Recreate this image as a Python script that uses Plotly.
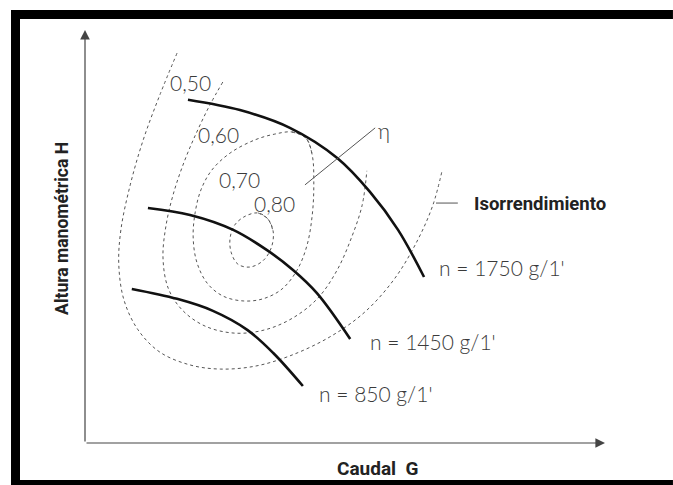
import plotly.graph_objects as go

# Head-capacity curves of the pump at three speeds (Caudal Q, Altura H, arbitrary units)
q_1750 = [19.8, 29.8, 39.4, 48.5, 54.8, 60.2, 65.2]
h_1750 = [83.1, 80.6, 76.3, 69.0, 60.8, 51.6, 40.2]

q_1450 = [12.1, 20.2, 28.5, 35.0, 40.0, 44.6, 51.0]
h_1450 = [56.9, 55.2, 51.6, 46.7, 41.9, 36.3, 25.2]

q_850 = [9.0, 17.7, 24.6, 31.2, 36.2, 41.9]
h_850 = [37.3, 34.9, 32.0, 27.4, 21.8, 13.8]

# Iso-efficiency contours (isorrendimiento)
q_050 = [17.7, 14.4, 11.2, 8.7, 6.9, 6.5, 7.5, 10.2, 14.4, 20.2, 26.0, 32.7, 39.4, 47.1, 53.8, 59.6, 64.0, 66.9, 68.7]
h_050 = [94.4, 84.3, 73.4, 62.5, 51.6, 43.1, 34.6, 27.4, 22.0, 18.9, 17.9, 18.6, 21.1, 25.7, 31.7, 39.9, 49.2, 57.6, 66.1]

q_060 = [26.5, 24.0, 21.5, 19.2, 17.1, 15.6, 15.0, 16.0, 18.7, 23.1, 28.8, 34.6, 40.0, 44.8, 48.5, 51.3, 53.3, 54.2]
h_060 = [87.4, 81.8, 75.3, 68.5, 60.8, 52.8, 44.8, 37.5, 32.2, 28.3, 26.6, 27.4, 30.3, 35.1, 41.9, 49.9, 57.6, 65.9]

# closed contours: the first points are repeated at the end so the loop joins smoothly
q_070 = [39.8, 42.5, 43.7, 44.0, 43.7, 42.7, 40.8, 37.9, 34.2, 30.4, 26.5, 23.5, 21.5, 20.8, 21.2, 22.3, 24.4, 27.9, 32.7, 36.5, 39.8, 42.5, 43.7]
h_070 = [75.3, 73.8, 69.7, 62.5, 55.2, 47.9, 41.9, 37.3, 34.9, 34.4, 35.6, 38.7, 43.8, 49.9, 55.9, 61.3, 66.1, 70.2, 73.4, 74.8, 75.3, 73.8, 69.7]

q_080 = [33.3, 35.2, 36.2, 35.8, 34.2, 31.7, 29.4, 28.1, 27.9, 28.8, 30.8, 33.3, 35.2, 36.2]
h_080 = [55.7, 54.2, 51.1, 47.2, 44.1, 42.6, 43.3, 46.2, 49.6, 52.8, 54.9, 55.7, 54.2, 51.1]

eff_labels = ["0,50", "0,60", "0,70", "0,80"]
eff_label_q = [20.2, 25.6, 29.8, 36.5]
eff_label_h = [87.2, 74.6, 63.7, 58.1]

speed_labels = ["n = 1750 g/1'", "n = 1450 g/1'", "n = 850 g/1'"]
speed_label_q = [67.7, 54.4, 44.6]
speed_label_h = [42.6, 24.5, 11.9]

# Leader lines for the η and Isorrendimiento callouts
eta_q = [42.3, 55.8]
eta_h = [62.5, 76.3]
iso_q = [67.5, 71.7]
iso_h = [58.1, 58.1]

LIGHT = dict(family="Lato, 'Open Sans', sans-serif", size=21, color="#3a3a3a", weight=300)
BOLD = dict(family="Roboto, Lato, sans-serif", size=18.5, color="#222", weight="bold")

fig = go.Figure()

dash_style = dict(color="#555", width=1, dash="3px,3px")
for qs, hs in [(q_050, h_050), (q_060, h_060), (q_070, h_070), (q_080, h_080)]:
    fig.add_trace(go.Scatter(x=qs, y=hs, mode="lines",
                             line=dict(shape="spline", smoothing=1.0, **dash_style),
                             hoverinfo="skip"))

for qs, hs in [(q_1750, h_1750), (q_1450, h_1450), (q_850, h_850)]:
    fig.add_trace(go.Scatter(x=qs, y=hs, mode="lines",
                             line=dict(shape="spline", color="#111", width=2.6),
                             hoverinfo="skip"))

for qs, hs in [(eta_q, eta_h), (iso_q, iso_h)]:
    fig.add_trace(go.Scatter(x=qs, y=hs, mode="lines",
                             line=dict(color="#555", width=1), hoverinfo="skip"))

annotations = []
for t, q, h in zip(eff_labels, eff_label_q, eff_label_h):
    annotations.append(dict(x=q, y=h, text=t, showarrow=False, font=LIGHT,
                            xanchor="center", yanchor="middle"))
for t, q, h in zip(speed_labels, speed_label_q, speed_label_h):
    annotations.append(dict(x=q, y=h, text=t, showarrow=False, font=LIGHT,
                            xanchor="left", yanchor="middle"))
annotations.append(dict(x=56.0, y=75.6, text="η", showarrow=False, font=LIGHT,
                        xanchor="left", yanchor="middle"))
annotations.append(dict(x=74.4, y=57.9, text="Isorrendimiento", showarrow=False,
                        font=BOLD, xanchor="left", yanchor="middle"))

# Axes drawn as arrows from the origin
for tip_x, tip_y in [(0, 100), (100, 0)]:
    annotations.append(dict(x=tip_x, y=tip_y, ax=0, ay=0, xref="x", yref="y",
                            axref="x", ayref="y", text="", showarrow=True,
                            arrowhead=2, arrowsize=1.6, arrowwidth=1.2,
                            arrowcolor="#444", standoff=0))

# Axis titles
annotations.append(dict(x=0.564, y=-0.061, xref="paper", yref="paper",
                        text="Caudal\u00a0\u00a0G", showarrow=False,
                        font=dict(BOLD, size=19),
                        xanchor="center", yanchor="middle"))
annotations.append(dict(x=-0.043, y=0.52, xref="paper", yref="paper",
                        text="Altura manométrica H", showarrow=False,
                        font=dict(BOLD, size=17.5),
                        textangle=-90, xanchor="center", yanchor="middle"))

# Heavy frame bands on the left, top and bottom edges, kept inside the page
def band(x0, x1, y0, y1):
    return dict(type="rect", xref="paper", yref="paper", x0=x0, x1=x1, y0=y0, y1=y1,
                fillcolor="black", line=dict(width=0), layer="above")

page_left, page_right = -0.1423, 1.1307
shapes = [
    band(page_left, page_right, 1.0266, 1.0484),      # top
    band(page_left, page_right, -0.1017, -0.0896),    # bottom
    band(page_left, -0.125, -0.1017, 1.0484),         # left
]

fig.update_layout(
    width=673, height=485,
    margin=dict(l=85, r=68, t=30, b=42),
    paper_bgcolor="white", plot_bgcolor="white",
    showlegend=False,
    xaxis=dict(range=[0, 100], visible=False, fixedrange=True),
    yaxis=dict(range=[0, 100], visible=False, fixedrange=True),
    annotations=annotations,
    shapes=shapes,
)

fig.write_html("out.html")
